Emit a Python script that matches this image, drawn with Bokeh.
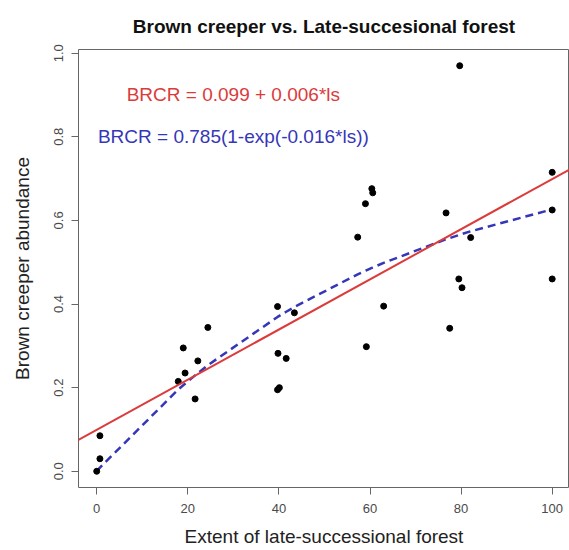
import math
from bokeh.plotting import figure
from bokeh.models import FixedTicker, Slope, Range1d
from bokeh.core.properties import value
from bokeh.embed import file_html
from bokeh.resources import INLINE

# ---- data ----
late_succ = [0, 0.7, 0.7, 17.9, 19.0, 19.4, 21.6, 22.2, 24.4, 39.7, 43.4, 39.8, 41.6,
             39.7, 40.1, 79.7, 60.4, 60.6, 59.0, 57.3, 76.7, 82.1, 100, 100, 100,
             79.5, 80.2, 63.0, 77.5, 59.2]
brcr = [0.000, 0.030, 0.085, 0.215, 0.295, 0.235, 0.173, 0.264, 0.344, 0.394, 0.379,
        0.282, 0.270, 0.195, 0.200, 0.970, 0.676, 0.666, 0.640, 0.560, 0.618, 0.559,
        0.715, 0.625, 0.460, 0.460, 0.439, 0.395, 0.342, 0.298]

lin_intercept = 0.099
lin_slope = 0.006
nls_asym = 0.785
nls_rate = 0.016

x_ticks = [0, 20, 40, 60, 80, 100]
y_ticks = [0.0, 0.2, 0.4, 0.6, 0.8, 1.0]
y_tick_labels = ["0.0", "0.2", "0.4", "0.6", "0.8", "1.0"]

title_text = "Brown creeper vs. Late-succesional forest"
x_label = "Extent of late-successional forest"
y_label = "Brown creeper abundance"
eq_linear = "BRCR = 0.099 + 0.006*ls"
eq_nls = "BRCR = 0.785(1-exp(-0.016*ls))"

FONT = "Liberation Sans"
RED = "#dc3b3b"
BLUE = "#3636b8"

p = figure(width=569, height=550, output_backend="svg", toolbar_location=None,
           x_range=Range1d(-4, 103.8), y_range=Range1d(-0.0388, 1.0088),
           min_border_left=78, min_border_right=0, min_border_top=49,
           min_border_bottom=63)

p.title.text = title_text
p.title.align = "center"
p.title.text_font = FONT
p.title.text_font_size = "19px"
p.title.text_font_style = "bold"
p.title.text_color = "#111111"
p.title.standoff = 25

p.background_fill_color = "white"
p.border_fill_color = "white"
p.outline_line_color = "#666666"
p.outline_line_width = 1
p.xgrid.visible = False
p.ygrid.visible = False

for ax in (p.xaxis[0], p.yaxis[0]):
    ax.axis_line_color = None
    ax.major_tick_line_color = "#666666"
    ax.major_tick_out = 7
    ax.major_tick_in = 0
    ax.minor_tick_line_color = None
    ax.major_label_text_font = FONT
    ax.major_label_text_font_size = "13px"
    ax.major_label_text_color = "#4a4a4a"
    ax.axis_label_text_font = FONT
    ax.axis_label_text_font_size = "19px"
    ax.axis_label_text_font_style = "normal"
    ax.axis_label_text_color = "#222222"

p.xaxis.ticker = FixedTicker(ticks=x_ticks)
p.yaxis.ticker = FixedTicker(ticks=y_ticks)
p.yaxis.major_label_overrides = {t: l for t, l in zip(y_ticks, y_tick_labels)}
p.yaxis.major_label_orientation = "vertical"
p.xaxis.axis_label = x_label
p.yaxis.axis_label = y_label
p.xaxis.major_label_standoff = 9
p.xaxis.axis_label_standoff = 10
p.yaxis.major_label_standoff = 8
p.yaxis.axis_label_standoff = 19

# linear fit (abline across the full plot)
p.add_layout(Slope(gradient=lin_slope, y_intercept=lin_intercept,
                   line_color=RED, line_width=2))

# non-linear fit evaluated at sorted data x values
xs_sorted = sorted(set(late_succ))
ys_fit = [nls_asym * (1 - math.exp(-nls_rate * x)) for x in xs_sorted]
p.line(xs_sorted, ys_fit, line_color=BLUE, line_width=2.5, line_dash="8 5")

p.scatter(late_succ, brcr, size=6, color="black")

p.text(x=[30], y=[0.9], text=[eq_linear], text_color=RED,
       text_font=value(FONT), text_font_size="19px",
       text_align="center", text_baseline="middle")
p.text(x=[30], y=[0.8], text=[eq_nls], text_color=BLUE,
       text_font=value(FONT), text_font_size="19px",
       text_align="center", text_baseline="middle")

open("out.html", "w").write(file_html(p, INLINE))
